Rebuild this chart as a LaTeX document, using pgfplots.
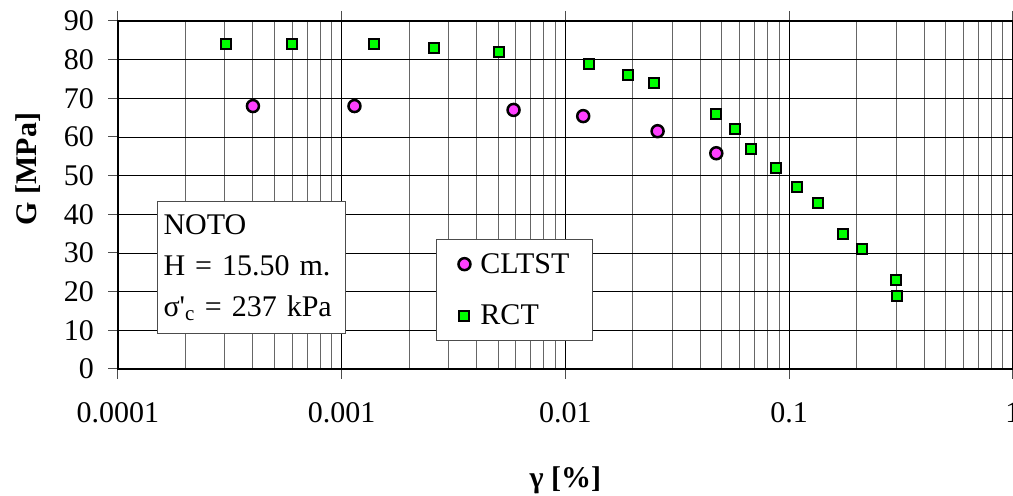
\documentclass[border=0pt]{standalone}
\usepackage{fontspec}
\setmainfont{Liberation Serif}
\usepackage{pgfplots}
\pgfplotsset{compat=1.18}
\definecolor{mag}{HTML}{FF40FF}
\definecolor{grn}{HTML}{00FF00}
\begin{document}
\begin{tikzpicture}[font=\fontsize{30}{36}\selectfont]
\begin{axis}[
  name=ax,
  scale only axis,
  width=895pt, height=348pt,
  xmode=log,
  xmin=1e-4, xmax=1,
  ymin=0, ymax=90,
  xtick={1e-4,1e-3,1e-2,1e-1,1},
  xticklabels={0.0001,0.001,0.01,0.1,1},
  ytick={0,10,...,90},
  /pgf/number format/assume math mode=true,
  xmajorgrids, xminorgrids, ymajorgrids,
  major grid style={black, line width=0.9pt},
  minor grid style={black!60, line width=0.9pt},
  axis line style={line width=2pt},
  tick align=outside,
  major tick length=10pt,
  minor tick length=0pt,
  tick style={black!70, line width=1pt},
  xticklabel style={anchor=base, inner sep=0pt, yshift=-44pt},
  yticklabel style={anchor=east, inner sep=0pt, xshift=-14pt},
  xlabel={\bfseries γ [\%]},
  ylabel={\bfseries G [MPa]},
  xlabel style={at={(axis description cs:0.5,0)}, anchor=base, inner sep=0pt, yshift=-119pt},
  ylabel style={at={(axis description cs:-0.1006,0.575)}, anchor=center, inner sep=0pt},
  legend style={at={(axis description cs:0.3553,0.3736)}, anchor=north west,
    draw=black!70, line width=1pt, fill=white, inner xsep=22pt, inner ysep=13pt,
    row sep=28pt, column sep=9pt, cells={anchor=west}, font=\fontsize{30}{36}\selectfont,
    nodes={inner sep=1pt}},
  legend image code/.code={\draw[#1] plot coordinates {(0pt,0pt)};},
]
\addplot[only marks, mark=*, mark size=6pt, mark options={fill=mag, draw=black, line width=2.5pt}]
coordinates {
(0.000401,68) (0.00114,68) (0.00586,67) (0.0120,65.4) (0.0258,61.5) (0.0472,55.8)
};
\addlegendentry{CLTST}
\addplot[only marks, mark=square*, mark size=5pt, mark options={fill=grn, draw=black, line width=2pt}]
coordinates {
(0.000303,84) (0.000598,84) (0.00139,84) (0.00258,83) (0.00507,82)
(0.0128,79) (0.0191,76) (0.0249,74) (0.0472,66) (0.0574,62)
(0.0676,57) (0.0875,52) (0.1086,47) (0.1347,43) (0.174,35)
(0.212,31) (0.300,23) (0.302,19)
};
\addlegendentry{RCT}
\node[draw=black!70, line width=1pt, fill=white, anchor=north west, align=left,
  text width=176pt, minimum height=132pt, inner xsep=6pt, inner ysep=4pt,
  font=\fontsize{30}{41}\selectfont]
  at (axis description cs:0.0436,0.4828)
  {NOTO\\H = 15.50 m.\\σ\textquotesingle\textsubscript{c} = 237 kPa};
\end{axis}
\pgfresetboundingbox
\path[use as bounding box] ([xshift=-118pt,yshift=-127pt]ax.south west) rectangle ([yshift=21pt]ax.north east);
\end{tikzpicture}
\end{document}
